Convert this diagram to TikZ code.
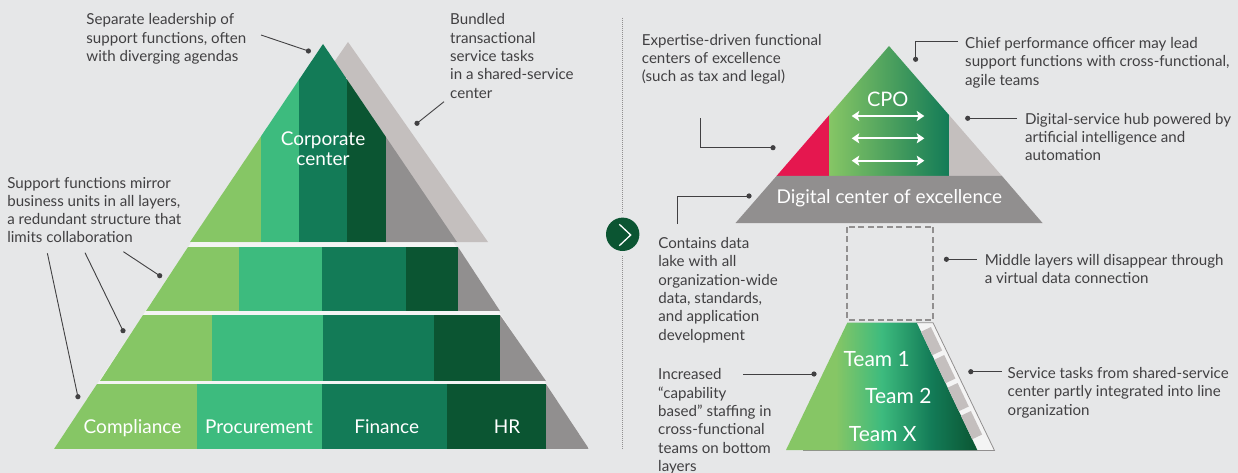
\documentclass[tikz,border=0pt]{standalone}
\usepackage{fontspec}
\setmainfont{Lato}
\usetikzlibrary{arrows.meta}
\definecolor{bgc}{HTML}{E6E7E8}
\definecolor{gapc}{HTML}{F4F4F4}
\definecolor{lgreen}{HTML}{86C665}
\definecolor{mgreen}{HTML}{3DBB7E}
\definecolor{dgreen}{HTML}{137B57}
\definecolor{ddgreen}{HTML}{0B5532}
\definecolor{sgray}{HTML}{918F8F}
\definecolor{lgray}{HTML}{C4BFBE}
\definecolor{crimson}{HTML}{E5174F}
\definecolor{txt}{HTML}{414042}
% light green -> dark green across the team layer
\pgfdeclarehorizontalshading{teamshade}{100bp}{color(0bp)=(lgreen); color(38bp)=(lgreen); color(50bp)=(mgreen); color(63bp)=(dgreen); color(75bp)=(ddgreen); color(100bp)=(ddgreen)}

\begin{document}
\begin{tikzpicture}[x=1pt,y=-1pt,
  note/.style={anchor=north west,inner sep=0pt,align=left,text=txt,font=\fontsize{15.1}{18.3}\selectfont},
  inlbl/.style={anchor=base,inner sep=0pt,text=white,font=\fontsize{19}{20}\selectfont},
  leader/.style={draw=txt,line width=0.9pt},
  tile/.style={fill=lgray}]
 \fill[bgc] (0,0) rectangle (1238,473);
 \useasboundingbox (0,0) rectangle (1238,473);

 % old model: pyramid of four layers
 \fill[gapc] (323,44) -- (589,449) -- (54,449) -- cycle;
 \fill[lgray] (348,42) -- (488,242) -- (210,242) -- cycle;
 \begin{scope}
  \clip (323,44) -- (457,242) -- (190,242) -- cycle;
  \fill[lgreen] (180,40) rectangle (261,242); \fill[mgreen] (261,40) rectangle (299,242);
  \fill[dgreen] (299,40) rectangle (347,242); \fill[ddgreen] (347,40) rectangle (386,242);
  \fill[sgray] (386,40) rectangle (470,242);
 \end{scope}
 \foreach \t/\b/\tl/\tr/\bl/\br/\sa/\sb/\sc in {247/311/188/458/146/500/239/322/406,315/381/143/500/100/546/212/323/434,384/449/97/546/54/589/197/322/447}{
  \begin{scope}
   \clip (\tl,\t) -- (\tr,\t) -- (\br,\b) -- (\bl,\b) -- cycle;
   \fill[lgreen] (\bl,\t) rectangle (\sa,\b); \fill[mgreen] (\sa,\t) rectangle (\sb,\b);
   \fill[dgreen] (\sb,\t) rectangle (\sc,\b); \fill[ddgreen] (\sc,\t) rectangle (\tr,\b);
   \fill[sgray] (\tr,\t) rectangle (\br,\b);
  \end{scope}}
 \node[inlbl,anchor=center,align=center] (corp) at (323,148.5) {Corporate\\center};
 \node[inlbl] (compl) at (132.5,433.5) {Compliance};
 \node[inlbl] (procu) at (259,433.5) {Procurement};
 \node[inlbl] (finan) at (386.7,433.5) {Finance};
 \node[inlbl] (hr) at (507,433.5) {HR};

 % divider with chevron
 \node[circle,fill=ddgreen,minimum size=33.4pt,inner sep=0pt] (go) at (622.7,234.3) {};
 \draw[white,line width=1.3pt] (619.3,224.3) -- (630.7,235) -- (619.3,245.7);
 \coordinate (divtop) at (622.7,18); \coordinate (divbot) at (622.7,450);
 \draw[sgray,line width=1pt,dash pattern=on 1pt off 1pt,shorten >=4.5pt] (divtop) -- (go);
 \draw[sgray,line width=1pt,dash pattern=on 1pt off 1pt,shorten <=5pt] (go) -- (divbot);

 % new model: top pyramid
 \begin{scope}
  \clip (889,46) -- (1002,176) -- (776.5,176) -- cycle;
  \fill[crimson] (770,40) rectangle (829,176);
  \shade[left color=lgreen,middle color=mgreen,right color=dgreen] (829,40) rectangle (949,176);
  \fill[lgray] (949,40) rectangle (1010,176);
 \end{scope}
 \fill[sgray] (776.5,176) -- (1002,176) -- (1042.5,223) -- (735.5,223) -- cycle;
 \foreach \y in {116,138.3,160.7}
  \draw[white,line width=1.7pt,{Stealth[length=7.5pt,width=10pt,inset=1.5pt]}-{Stealth[length=7.5pt,width=10pt,inset=1.5pt]}] (851.7,\y) -- (924.3,\y);
 \node[inlbl,font=\fontsize{20}{22}\selectfont] (cpo) at (887.7,106.5) {CPO};
 \node[inlbl] (dce) at (889.3,203.5) {Digital center of excellence};

 % vanished middle layers
 \draw[sgray,line width=2pt,dash pattern=on 6pt off 3.5pt] (847.4,226.7) rectangle (933.4,320);

 % bottom layer with service strip
 \fill[gapc] (916.7,322.7) -- (933,322.7) -- (994.5,450) -- (977.3,450) -- cycle;
 \draw[sgray,line width=0.8pt] (916.7,322.7) -- (933,322.7) -- (994.5,450.5) -- (803,450.5);
 \shade[shading=teamshade] (847.3,322.7) -- (916.7,322.7) -- (977.3,450) -- (786,450) -- cycle;
 \foreach \s in {10,41,72,103}
  \fill[tile] (916.7+0.430*\s,322.7+0.903*\s) -- ++(11.2,23.5) -- ++(9.9,-4.7) -- ++(-11.2,-23.5) -- cycle;
 \node[inlbl,font=\fontsize{21}{22}\selectfont] (team1) at (876.7,366.5) {Team 1};
 \node[inlbl,font=\fontsize{21}{22}\selectfont] (team2) at (898.3,403.5) {Team 2};
 \node[inlbl,font=\fontsize{21}{22}\selectfont] (teamx) at (882.7,441) {Team X};

 % notes
 \node[note] (sep) at (86.2,13.5) {Separate leadership of\\support functions, often\\with diverging agendas};
 \node[note] (bund) at (450,13.5) {Bundled\\transactional\\service tasks\\in a shared-service\\center};
 \node[note] (mirr) at (7.1,176.8) {Support functions mirror\\business units in all layers,\\a redundant structure that\\limits collaboration};
 \node[note] (expt) at (641.7,33.8) {Expertise-driven functional\\centers of excellence\\(such as tax and legal)};
 \node[note] (chief) at (965,37.2) {Chief performance officer may lead\\support functions with cross-functional,\\agile teams};
 \node[note] (hub) at (1024.8,112.8) {Digital-service hub powered by\\artificial intelligence and\\automation};
 \node[note] (lake) at (658.2,237.2) {Contains data\\lake with all\\organization-wide\\data, standards,\\and application\\development};
 \node[note] (midl) at (984.6,253.8) {Middle layers will disappear through\\a virtual data connection};
 \node[note] (capb) at (658,368.5) {Increased\\“capability\\based” staffing in\\cross-functional\\teams on bottom\\layers};
 \node[note] (svc) at (1007.5,367.2) {Service tasks from shared-service\\center partly integrated into line\\organization};

 % leader lines
 \coordinate (sep-a) at (261,35);      \coordinate (sep-b) at (308.4,51);
 \coordinate (bund-a) at (444,101.7);  \coordinate (bund-b) at (417,123.3);
 \coordinate (mirr-a) at (123.4,251.7); \coordinate (mirr-b) at (159.7,275.7);
 \coordinate (mirr-c) at (85,252.7);   \coordinate (mirr-d) at (123,330.7);
 \coordinate (mirr-e) at (47.4,253.3); \coordinate (mirr-f) at (77.9,396.7);
 \coordinate (expt-a) at (700.8,118.3); \coordinate (expt-b) at (773,147.7);
 \coordinate (chief-a) at (958.2,41.7); \coordinate (chief-b) at (915.6,59.3);
 \coordinate (hub-a) at (1017,118.3);  \coordinate (hub-b) at (967.7,118.3);
 \coordinate (lake-a) at (677,224);    \coordinate (lake-b) at (749,196);
 \coordinate (midl-a) at (976.7,259.3); \coordinate (midl-b) at (946.4,259.3);
 \coordinate (capb-a) at (743,374);    \coordinate (capb-b) at (814,374);
 \coordinate (svc-a) at (1001.5,371.7); \coordinate (svc-b) at (970.8,371.7);
 \draw[leader] (sep-a) -- (sep-b) (bund-a) -- (bund-b) (mirr-a) -- (mirr-b) (mirr-c) -- (mirr-d) (mirr-e) -- (mirr-f);
 \draw[leader] (expt-a) |- (expt-b) (chief-a) -| (chief-b) (lake-a) |- (lake-b);
 \draw[leader] (hub-a) -- (hub-b) (midl-a) -- (midl-b) (capb-a) -- (capb-b) (svc-a) -- (svc-b);
 \foreach \p in {sep-b,bund-b,mirr-b,mirr-d,mirr-f,expt-b,chief-b,hub-b,lake-b,midl-b,capb-b,svc-b}{\fill[txt] (\p) circle (2.6pt);}
\end{tikzpicture}
\end{document}
